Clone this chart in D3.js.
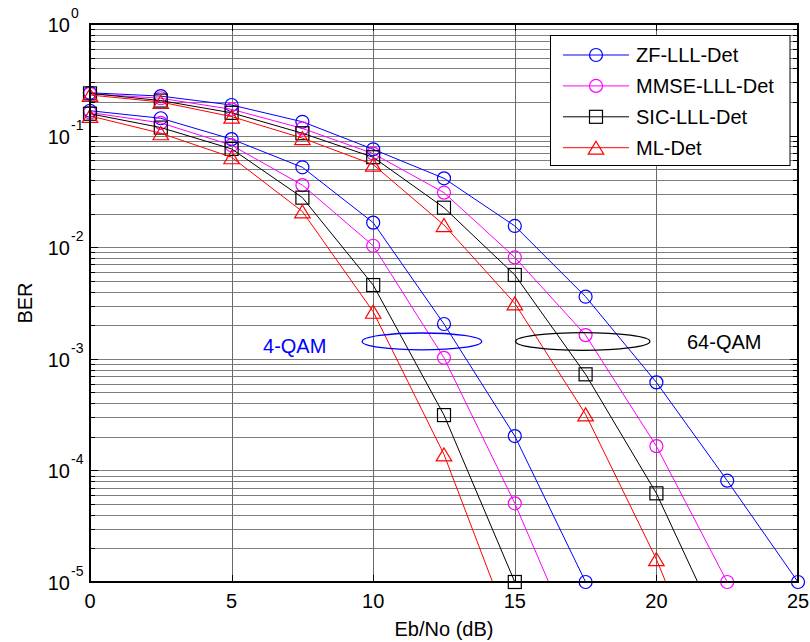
<!DOCTYPE html>
<html>
<head>
<meta charset="utf-8">
<script src="https://cdn.jsdelivr.net/npm/d3@7"></script>
<style>
  html, body { margin: 0; padding: 0; background: #fff; }
  svg { display: block; font-family: "Liberation Sans", Arial, sans-serif; }
</style>
</head>
<body>
<svg id="chart" width="810" height="642"></svg>
<script>
// SNR axis (dB)
const ebno = [0, 2.5, 5, 7.5, 10, 12.5, 15, 17.5, 20, 22.5, 25];

// BER curves, 4-QAM
const zf4   = [0.167, 0.143, 0.093, 0.052, 0.0166, 0.00205, 2.03e-4, 1e-5];
const mmse4 = [0.161, 0.130, 0.082, 0.036, 0.0103, 0.00102, 5.07e-5, 1.7e-6];
const sic4  = [0.157, 0.118, 0.076, 0.0278, 0.00458, 3.13e-4, 1e-5];
const ml4   = [0.150, 0.105, 0.064, 0.0209, 0.00264, 1.39e-4, 3e-6];

// BER curves, 64-QAM
const zf64   = [0.242, 0.226, 0.188, 0.133, 0.0754, 0.0414, 0.0155, 0.0036, 6.15e-4, 8.09e-5, 1e-5];
const mmse64 = [0.237, 0.216, 0.172, 0.116, 0.069, 0.0308, 0.0081, 0.00163, 1.65e-4, 1e-5];
const sic64  = [0.239, 0.206, 0.160, 0.105, 0.064, 0.0226, 0.00564, 7.26e-4, 6.23e-5, 2.7e-6];
const ml64   = [0.231, 0.200, 0.148, 0.095, 0.055, 0.0158, 0.00314, 3.18e-4, 1.6e-5, 4.5e-7];

// legend entries
const legendNames   = ["ZF-LLL-Det", "MMSE-LLL-Det", "SIC-LLL-Det", "ML-Det"];
const legendColors  = ["#0000ff", "#ff00ff", "#000000", "#ff0000"];
const legendMarkers = ["circle", "circle", "square", "triangle"];

// axis ticks
const xTicks = [0, 5, 10, 15, 20, 25];
const yExponents = [0, -1, -2, -3, -4, -5];

// annotations: group ellipses [centre dB, centre BER, half-width dB, half-height decades]
const ellipse4  = [11.72, 1.43e-3, 2.11, 0.076];
const ellipse64 = [17.40, 1.43e-3, 2.37, 0.079];
const labels = [
  { text: "4-QAM",  x: 6.11,  ber: 1.135e-3, color: "#0000ff" },
  { text: "64-QAM", x: 21.08, ber: 1.22e-3,  color: "#000000" }
];

const svg = d3.select("#chart");
const L = 90, R = 798, T = 24, B = 582;

const x = d3.scaleLinear().domain([0, 25]).range([L, R]);
const y = d3.scaleLog().domain([1e-5, 1]).range([B, T]);

// minor decade positions
const minorVals = [];
for (let e = -5; e < 0; e++) {
  for (let m = 2; m <= 9; m++) minorVals.push(m * Math.pow(10, e));
}
const majorVals = yExponents.map(e => Math.pow(10, e));

// grid
const grid = svg.append("g").attr("shape-rendering", "crispEdges");
grid.selectAll(".hg").data(minorVals.concat(majorVals.slice(1, -1))).enter().append("line")
  .attr("x1", L).attr("x2", R)
  .attr("y1", d => Math.round(y(d)) + 0.5).attr("y2", d => Math.round(y(d)) + 0.5)
  .attr("stroke", "#7d7d7d").attr("stroke-width", 1);
grid.selectAll(".vg").data(xTicks.slice(1, -1)).enter().append("line")
  .attr("x1", d => Math.round(x(d)) + 0.5).attr("x2", d => Math.round(x(d)) + 0.5)
  .attr("y1", T).attr("y2", B)
  .attr("stroke", "#6a6a6a").attr("stroke-width", 1);

// clip for curves
svg.append("clipPath").attr("id", "plotClip")
  .append("rect").attr("x", L).attr("y", T).attr("width", R - L).attr("height", B - T);

function markerPath(type) {
  if (type === "circle") return d3.path().toString();
  return null;
}

function drawMarker(g, type, cx, cy, color) {
  if (type === "circle") {
    g.append("circle").attr("cx", cx).attr("cy", cy).attr("r", 6.5)
      .attr("fill", "none").attr("stroke", color).attr("stroke-width", 1.2);
  } else if (type === "square") {
    g.append("rect").attr("x", cx - 6.5).attr("y", cy - 6.5).attr("width", 13).attr("height", 13)
      .attr("fill", "none").attr("stroke", color).attr("stroke-width", 1.2);
  } else {
    const w = 15.5, h = 13;
    g.append("path")
      .attr("d", `M${cx},${cy - h / 2}L${cx + w / 2},${cy + h / 2}L${cx - w / 2},${cy + h / 2}Z`)
      .attr("fill", "none").attr("stroke", color).attr("stroke-width", 1.2);
  }
}

const series = [
  { v: zf4,    c: legendColors[0], m: legendMarkers[0] },
  { v: zf64,   c: legendColors[0], m: legendMarkers[0] },
  { v: mmse4,  c: legendColors[1], m: legendMarkers[1] },
  { v: mmse64, c: legendColors[1], m: legendMarkers[1] },
  { v: sic4,   c: legendColors[2], m: legendMarkers[2] },
  { v: sic64,  c: legendColors[2], m: legendMarkers[2] },
  { v: ml4,    c: legendColors[3], m: legendMarkers[3] },
  { v: ml64,   c: legendColors[3], m: legendMarkers[3] }
];

const line = d3.line().x(d => x(d[0])).y(d => y(d[1]));
const plot = svg.append("g");
series.forEach(s => {
  const pts = s.v.map((b, i) => [ebno[i], b]);
  plot.append("path").datum(pts)
    .attr("d", line).attr("clip-path", "url(#plotClip)")
    .attr("fill", "none").attr("stroke", s.c).attr("stroke-width", 1);
  const mg = plot.append("g");
  pts.filter(p => p[1] >= 1e-5 * 0.999).forEach(p => drawMarker(mg, s.m, x(p[0]), y(p[1]), s.c));
});

// group ellipses
[[ellipse4, "#0000ff"], [ellipse64, "#000000"]].forEach(([e, col]) => {
  const cx = x(e[0]), cy = y(e[1]);
  const rx = x(e[0] + e[2]) - cx;
  const ry = cy - y(e[1] * Math.pow(10, e[3]));
  svg.append("ellipse").attr("cx", cx).attr("cy", cy).attr("rx", rx).attr("ry", ry)
    .attr("fill", "none").attr("stroke", col).attr("stroke-width", 1.3);
});

labels.forEach(l => {
  svg.append("text").attr("x", x(l.x)).attr("y", y(l.ber))
    .attr("fill", l.color).attr("font-size", 20).text(l.text);
});

// axes frame and inward ticks
const ax = svg.append("g").attr("stroke", "#000").attr("shape-rendering", "crispEdges");
xTicks.forEach(t => {
  const px = Math.round(x(t)) + 0.5;
  ax.append("line").attr("x1", px).attr("x2", px).attr("y1", B).attr("y2", B - 7);
  ax.append("line").attr("x1", px).attr("x2", px).attr("y1", T).attr("y2", T + 7);
});
majorVals.forEach(v => {
  const py = Math.round(y(v)) + 0.5;
  ax.append("line").attr("x1", L).attr("x2", L + 8).attr("y1", py).attr("y2", py);
  ax.append("line").attr("x1", R).attr("x2", R - 8).attr("y1", py).attr("y2", py);
});
minorVals.forEach(v => {
  const py = Math.round(y(v)) + 0.5;
  ax.append("line").attr("x1", L).attr("x2", L + 5).attr("y1", py).attr("y2", py);
  ax.append("line").attr("x1", R).attr("x2", R - 5).attr("y1", py).attr("y2", py);
});
svg.append("rect").attr("x", L).attr("y", T).attr("width", R - L).attr("height", B - T)
  .attr("fill", "none").attr("stroke", "#000").attr("stroke-width", 2);

// tick labels
svg.append("g").selectAll("text").data(xTicks).enter().append("text")
  .attr("x", d => x(d)).attr("y", 608).attr("text-anchor", "middle")
  .attr("font-size", 20).attr("fill", "#000").text(d => d);

const yl = svg.append("g");
yExponents.forEach(e => {
  const py = y(Math.pow(10, e));
  yl.append("text").attr("x", 70).attr("y", py + 8).attr("text-anchor", "end")
    .attr("font-size", 20).attr("fill", "#000").text("10");
  yl.append("text").attr("x", 71).attr("y", py - 6).attr("text-anchor", "start")
    .attr("font-size", 14).attr("fill", "#000").text(e === 0 ? "0" : String(e));
});

// axis titles
svg.append("text").attr("x", (L + R) / 2).attr("y", 636).attr("text-anchor", "middle")
  .attr("font-size", 20).attr("fill", "#000").text("Eb/No (dB)");
svg.append("text").attr("transform", `translate(32,${(T + B) / 2}) rotate(-90)`)
  .attr("text-anchor", "middle").attr("font-size", 20).attr("fill", "#000").text("BER");

// legend
const lg = svg.append("g");
lg.append("rect").attr("x", 550.5).attr("y", 35.5).attr("width", 239.5).attr("height", 130)
  .attr("fill", "#fff").attr("stroke", "#000").attr("stroke-width", 1);
legendNames.forEach((name, i) => {
  const cy = 55 + i * 30.9;
  lg.append("line").attr("x1", 563).attr("x2", 629).attr("y1", cy).attr("y2", cy)
    .attr("stroke", legendColors[i]).attr("stroke-width", 1);
  drawMarker(lg, legendMarkers[i], 596, cy, legendColors[i]);
  lg.append("text").attr("x", 636).attr("y", cy + 7).attr("font-size", 20)
    .attr("fill", "#000").text(name);
});
</script>
</body>
</html>
